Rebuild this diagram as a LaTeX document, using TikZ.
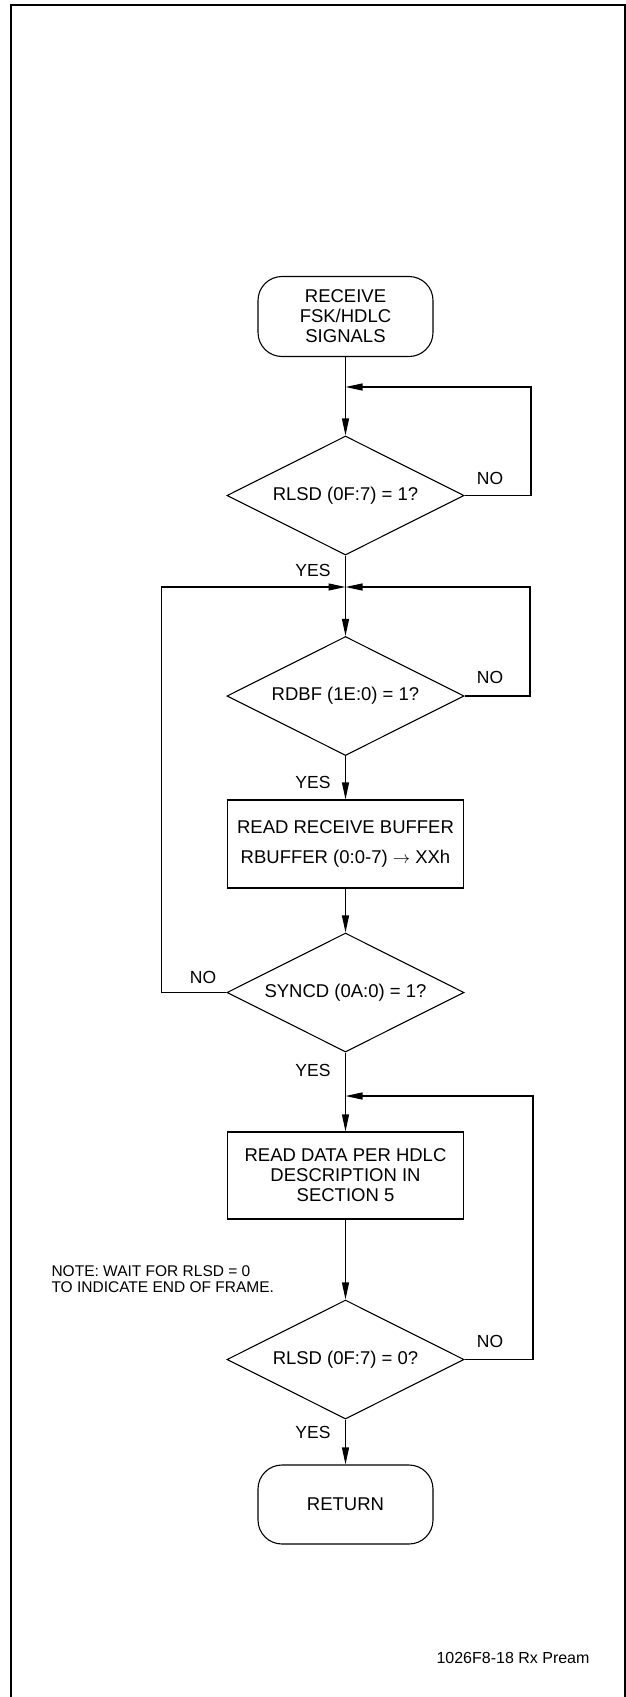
\documentclass[tikz,border=0pt]{standalone}
\usepackage{fontspec}
\setmainfont{Liberation Sans}
\usetikzlibrary{shapes.geometric,arrows.meta}
\begin{document}
\begin{tikzpicture}[x=1pt,y=-1pt,
  line width=1.1pt,
  arr/.style={-{Triangle[length=17pt,width=7pt]}},
  mainfont/.style={font=\fontsize{18.5}{20}\selectfont},
  term/.style={draw, rounded corners=24pt, minimum width=175pt, minimum height=80pt, inner sep=0pt, align=center, mainfont},
  proc/.style={draw, minimum width=236pt, minimum height=88pt, inner sep=0pt, align=center, mainfont},
  dia/.style={draw, diamond, minimum width=237pt, minimum height=119pt, inner sep=0pt},
  dtext/.style={inner sep=0pt, mainfont},
  lbl/.style={inner sep=0pt, font=\fontsize{17.5}{20}\selectfont}
]
\useasboundingbox (0,0) rectangle (626,1697);
% frame
\draw[line width=2pt] (11,1697) -- (11,4.5) -- (625,4.5) -- (625,1697);

% nodes
\node[term] (start) at (345.5,316.5) {RECEIVE\\FSK/HDLC\\SIGNALS};
\node[dia] (d1) at (345.5,495.5) {};
\node[dtext] (d1t) at (d1.center) {RLSD (0F:7) = 1?};
\node[dia] (d2) at (345.5,696) {};
\node[dtext] (d2t) at (d2.center) {RDBF (1E:0) = 1?};
\node[proc] (box1) at (345.5,844) {READ RECEIVE BUFFER\\[10pt]RBUFFER (0:0-7) $\rightarrow$ XXh};
\node[dia] (d3) at (345.5,992.5) {};
\node[dtext] (d3t) at (d3.center) {SYNCD (0A:0) = 1?};
\node[proc, minimum height=87pt] (box2) at (345.5,1175.5) {READ DATA PER HDLC\\DESCRIPTION IN\\SECTION 5};
\node[dia] (d4) at (345.5,1359.5) {};
\node[dtext] (d4t) at (d4.center) {RLSD (0F:7) = 0?};
\node[term, minimum height=79pt] (ret) at (345.5,1504.5) {RETURN};

% junction coordinates
\coordinate (c1) at (345.5,387);
\coordinate (r1) at (531,387);
\coordinate (c2) at (345.5,587);
\coordinate (r2) at (530,587);
\coordinate (l3) at (161.5,587);
\coordinate (c4) at (345.5,1096);
\coordinate (r4) at (533,1096);

% connectors
\draw[arr] (start.south) -- (d1.north);
\draw[arr] (d1.east) -| (r1) -- (c1);
\draw[arr] (d1.south) -- (d2.north);
\draw[arr] (d2.east) -| (r2) -- (c2);
\draw[arr] (d2.south) -- (box1.north);
\draw[arr] (box1.south) -- (d3.north);
\draw[arr] (d3.west) -| (l3) -- (c2);
\draw[arr] (d3.south) -- (box2.north);
\draw[arr] (box2.south) -- (d4.north);
\draw[arr] (d4.east) -| (r4) -- (c4);
\draw[arr] (d4.south) -- (ret.north);

% labels
\node[lbl] (no1) at (490,478) {NO};
\node[lbl, anchor=east] (yes1) at (331,570) {YES};
\node[lbl] (no2) at (490,677) {NO};
\node[lbl, anchor=east] (yes2) at (331,782) {YES};
\node[lbl] (no3) at (203,977) {NO};
\node[lbl, anchor=east] (yes3) at (331,1070) {YES};
\node[lbl] (no4) at (490,1341) {NO};
\node[lbl, anchor=east] (yes4) at (331,1432) {YES};

\node[inner sep=0pt, anchor=west, align=left, font=\fontsize{15.5}{16}\selectfont] (note) at (51,1279) {NOTE: WAIT FOR RLSD = 0\\TO INDICATE END OF FRAME.};
\node[inner sep=0pt, font=\fontsize{16}{18}\selectfont] (cap) at (513,1658) {1026F8-18 Rx Pream};
\end{tikzpicture}
\end{document}
